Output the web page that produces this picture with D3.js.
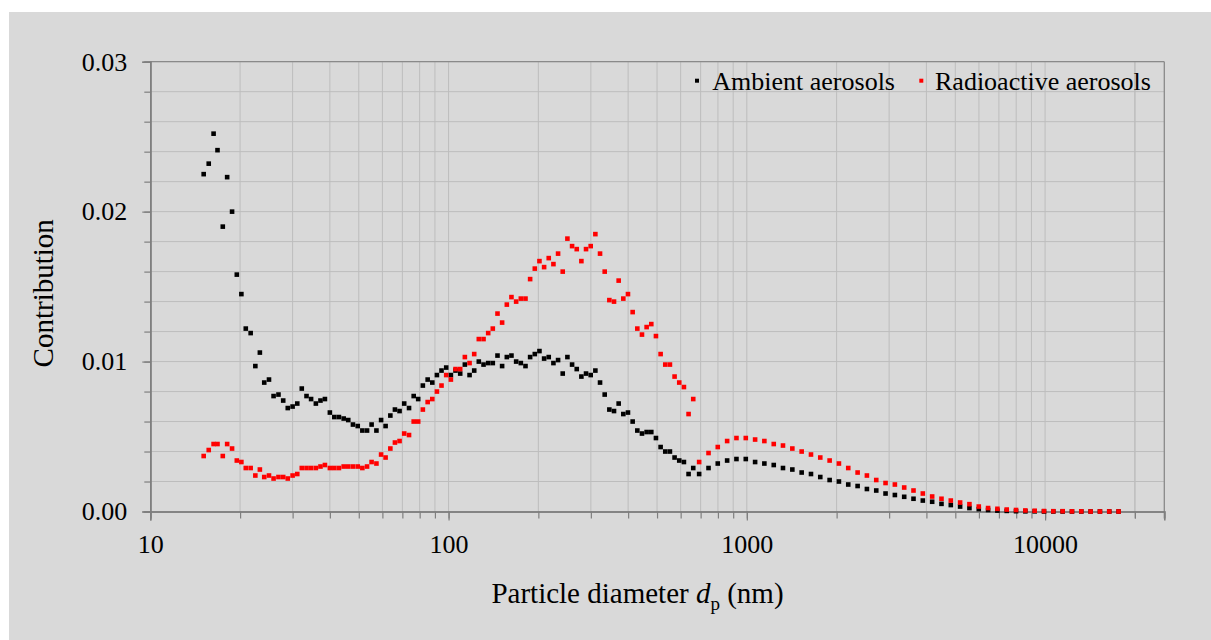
<!DOCTYPE html>
<html>
<head>
<meta charset="utf-8">
<script src="https://cdn.jsdelivr.net/npm/d3@7"></script>
<style>
html,body{margin:0;padding:0;background:#fff;}
text{font-family:"Liberation Serif","Times New Roman",serif;fill:#000;}
</style>
</head>
<body>
<svg id="chart" width="1211" height="640"></svg>
<script>
// ---- data ----
const smpsDiameters = [15.1,15.7,16.3,16.8,17.5,18.1,18.8,19.5,20.2,20.9,21.7,22.5,23.3,24.1,25.0,25.9,26.9,27.9,28.9,30.0,
31.1,32.2,33.4,34.6,35.9,37.2,38.5,40.0,41.4,42.9,44.5,46.1,47.8,49.6,51.4,53.3,55.2,57.3,59.4,61.5,
63.8,66.1,68.5,71.0,73.7,76.4,79.1,82.0,85.1,88.2,91.4,94.7,98.2,101.8,105.5,109.4,113.4,117.6,121.9,126.3,
131.0,135.8,140.7,145.9,151.2,156.8,162.5,168.5,174.7,181.1,187.7,194.6,201.7,209.1,216.7,224.7,232.9,241.4,250.3,259.5,
269.0,278.8,289.0,299.6,310.6,322.0,333.8,346.0,358.7,371.8,385.4,399.5,414.2,429.4,445.1,461.4,478.3,495.8,514.0,532.8,
552.3,572.5,593.5,615.3,637.8,661.2];
const apsDiameters = [692,744,799,859,923,992,1066,1145,1231,1322,1421,1527,1641,1763,1895,2036,2188,2352,2527,2716,
2918,3136,3370,3621,3891,4182,4494,4829,5189,5576,5993,6440,6920,7436,7991,8587,9228,9917,10656,11451,
12306,13224,14211,15271,16410,17635];

const ambientSmps = [0.0225,0.0232,0.0252,0.0241,0.0190,0.0223,0.0200,0.0158,0.0145,0.0122,
0.0119,0.0097,0.0106,0.0086,0.0088,0.0077,0.0078,0.0074,0.0069,0.0070,
0.0072,0.0082,0.0077,0.0075,0.0072,0.0074,0.0075,0.0066,0.0063,0.0063,
0.0062,0.0061,0.0058,0.0057,0.0054,0.0054,0.0058,0.0054,0.0061,0.0057,
0.0064,0.0068,0.0067,0.0072,0.0069,0.0077,0.0075,0.0084,0.0088,0.0086,
0.0091,0.0094,0.0096,0.0091,0.0094,0.0092,0.0098,0.0091,0.0094,0.0100,
0.0098,0.0099,0.0099,0.0104,0.0097,0.0103,0.0104,0.0100,0.0099,0.0097,
0.0103,0.0105,0.0107,0.0102,0.0103,0.0099,0.0101,0.0092,0.0103,0.0098,
0.0095,0.0090,0.0092,0.0091,0.0094,0.0086,0.0078,0.0068,0.0067,0.0072,
0.0065,0.0066,0.0060,0.0054,0.0052,0.0053,0.0053,0.0049,0.0043,0.0040,
0.0040,0.0036,0.0034,0.0033,0.0025,0.0029];
const radioSmps = [0.0037,0.0041,0.0045,0.0045,0.0037,0.0045,0.0042,0.0034,0.0033,0.0029,
0.0029,0.0024,0.0028,0.0023,0.0024,0.0022,0.0023,0.0023,0.0022,0.0024,
0.0025,0.0029,0.0029,0.0029,0.0029,0.0030,0.0031,0.0029,0.0029,0.0029,
0.0030,0.0030,0.0030,0.0030,0.0029,0.0030,0.0033,0.0032,0.0038,0.0036,
0.0042,0.0046,0.0047,0.0052,0.0051,0.0060,0.0060,0.0068,0.0073,0.0075,
0.0080,0.0084,0.0091,0.0088,0.0095,0.0095,0.0103,0.0099,0.0105,0.0115,
0.0115,0.0119,0.0122,0.0132,0.0126,0.0138,0.0143,0.0140,0.0142,0.0142,
0.0155,0.0162,0.0167,0.0163,0.0169,0.0165,0.0172,0.0160,0.0182,0.0177,
0.0175,0.0167,0.0175,0.0177,0.0185,0.0172,0.0160,0.0141,0.0140,0.0154,
0.0142,0.0145,0.0133,0.0122,0.0118,0.0123,0.0125,0.0117,0.0105,0.0098,
0.0098,0.0090,0.0086,0.0083,0.0065,0.0075];
const ambientAps = [0.0025,0.0029,0.0032,0.0034,0.0035,0.0035,0.0033,0.0032,0.0031,0.0029,
0.0028,0.0026,0.0025,0.0023,0.0021,0.0020,0.0018,0.0017,0.0015,0.0014,
0.0012,0.0011,0.00098,0.00085,0.00073,0.00065,0.00051,0.00043,0.00033,0.00023,
0.00016,0.0001,0.00006,0.00004,0.00002,0.00001,0.00001,0,0,0,
0,0,0,0,0,0];
const radioAps = [0.0033,0.0039,0.0043,0.0047,0.0049,0.0049,0.0048,0.0047,0.0045,0.0044,
0.0042,0.0040,0.0038,0.0036,0.0034,0.0032,0.0029,0.0026,0.0024,0.0021,
0.0019,0.0018,0.0016,0.0014,0.0012,0.0010,0.00085,0.00073,0.0006,0.00049,
0.00033,0.00023,0.00018,0.00013,0.0001,0.00007,0.00005,0.00003,0.00002,0.00002,
0.00001,0.00001,0,0,0,0];

const seriesNames = ["Ambient aerosols","Radioactive aerosols"];
const seriesColors = ["#000000","#ff0000"];
const xMajorTicks = [10,100,1000,10000];
const yTickLabels = [0,0.01,0.02,0.03];
const xTitle = "Particle diameter ";
const yTitle = "Contribution";

// ---- layout ----
const svg = d3.select("#chart");
const W = 1211, H = 640;
const L = 150.3, R = 1164.3, T = 61.7, B = 511.5;

svg.append("rect").attr("x",0).attr("y",0).attr("width",W).attr("height",H).attr("fill","#ffffff");
svg.append("rect").attr("x",9).attr("y",12).attr("width",W-9).attr("height",H-12).attr("fill","#d9d9d9");

const x = d3.scaleLog().domain([10, 25100]).range([L, R]);
const y = d3.scaleLinear().domain([0, 0.03]).range([B, T]);

// minor x values
const xMinor = [];
for (let dec = 10; dec <= 10000; dec *= 10) {
  for (let m = 1; m <= 9; m++) {
    const v = dec * m;
    if (v <= 25100) xMinor.push(v);
  }
}
xMinor.push(20000);
const yMinor = d3.range(0, 0.0301, 0.002);

const grid = svg.append("g");
grid.selectAll("line.vg").data(xMinor.filter(v => v > 10)).enter().append("line")
  .attr("x1", d => x(d)).attr("x2", d => x(d)).attr("y1", T).attr("y2", B)
  .attr("stroke", "#bdbdbd").attr("stroke-width", 1);
grid.selectAll("line.hg").data(yMinor.filter(v => v > 0.0001)).enter().append("line")
  .attr("x1", L).attr("x2", R).attr("y1", d => y(d)).attr("y2", d => y(d))
  .attr("stroke", "#bdbdbd").attr("stroke-width", 1);

// border top/right
svg.append("line").attr("x1", L).attr("x2", R).attr("y1", T).attr("y2", T).attr("stroke", "#8a8a8a").attr("stroke-width", 1.3);
svg.append("line").attr("x1", R).attr("x2", R).attr("y1", T).attr("y2", B + 7).attr("stroke", "#8a8a8a").attr("stroke-width", 1.3);

// x axis
const xAxisMinor = d3.axisBottom(x).tickValues(xMinor).tickSize(7).tickFormat("");
const gxm = svg.append("g").attr("transform", `translate(0,${B})`).call(xAxisMinor);
const xAxisMajor = d3.axisBottom(x).tickValues(xMajorTicks).tickSize(9).tickPadding(14).tickFormat(d3.format("d"));
const gx = svg.append("g").attr("transform", `translate(0,${B})`).call(xAxisMajor);
[gxm, gx].forEach(g => {
  g.select(".domain").attr("stroke", "#7f7f7f").attr("stroke-width", 1.6);
  g.selectAll(".tick line").attr("stroke", "#7f7f7f").attr("stroke-width", 1.2);
});
gx.selectAll(".tick text").attr("font-size", 26).attr("font-family", "Liberation Serif, serif").attr("fill", "#000");

// y axis
const yAxisMinor = d3.axisLeft(y).tickValues(yMinor).tickSize(6).tickFormat("");
const gym = svg.append("g").attr("transform", `translate(${L},0)`).call(yAxisMinor);
const yAxisMajor = d3.axisLeft(y).tickValues(yTickLabels).tickSize(8).tickPadding(15).tickFormat(d3.format(".2f"));
const gy = svg.append("g").attr("transform", `translate(${L},0)`).call(yAxisMajor);
[gym, gy].forEach(g => {
  g.select(".domain").attr("stroke", "#7f7f7f").attr("stroke-width", 1.6);
  g.selectAll(".tick line").attr("stroke", "#7f7f7f").attr("stroke-width", 1.2);
});
gy.selectAll(".tick text").attr("font-size", 26).attr("font-family", "Liberation Serif, serif").attr("fill", "#000");

// points
const ms = 4.6;
const seriesData = [
  {name: seriesNames[0], color: seriesColors[0],
   pts: smpsDiameters.map((d,i)=>({d, v: ambientSmps[i]})).concat(apsDiameters.map((d,i)=>({d, v: ambientAps[i]})))},
  {name: seriesNames[1], color: seriesColors[1],
   pts: smpsDiameters.map((d,i)=>({d, v: radioSmps[i]})).concat(apsDiameters.map((d,i)=>({d, v: radioAps[i]})))}
];
seriesData.forEach(s => {
  svg.append("g").selectAll("rect").data(s.pts).enter().append("rect")
    .attr("x", p => x(p.d) - ms/2).attr("y", p => y(p.v) - ms/2)
    .attr("width", ms).attr("height", ms).attr("fill", s.color);
});

// legend
const legendPos = [{mx: 697, tx: 712.3}, {mx: 921.3, tx: 935}];
seriesData.forEach((s, i) => {
  svg.append("rect").attr("x", legendPos[i].mx - 2).attr("y", 80.7 - 2).attr("width", 4).attr("height", 4).attr("fill", s.color);
  svg.append("text").attr("x", legendPos[i].tx).attr("y", 90.3).attr("font-size", 26).text(s.name);
});

// axis titles
const xt = svg.append("text").attr("x", 637.5).attr("y", 603.3).attr("text-anchor", "middle").attr("font-size", 29);
xt.append("tspan").text(xTitle);
xt.append("tspan").attr("font-style", "italic").text("d");
xt.append("tspan").attr("font-size", 19).attr("dy", 7).text("p");
xt.append("tspan").attr("dy", -7).text(" (nm)");

svg.append("text").attr("transform", "translate(53,293.3) rotate(-90)").attr("text-anchor", "middle").attr("font-size", 29).text(yTitle);
</script>
</body>
</html>
